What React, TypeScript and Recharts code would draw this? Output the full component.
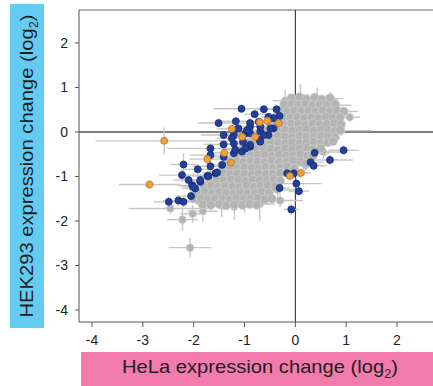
import React from "react";
import {
  ScatterChart,
  Scatter,
  XAxis,
  YAxis,
  ErrorBar,
  ReferenceLine,
} from "recharts";

// axis ticks (log2 fold change)
const xTicks = [-4, -3, -2, -1, 0, 1, 2];
const yTicks = [-4, -3, -2, -1, 0, 1, 2];
const xDomain: [number, number] = [-4.256, 2.885];
const yDomain: [number, number] = [-4.27, 2.74];

// bulk of proteins, grey cloud (no visible error bars)
const greyCloud: [number, number][] = [
  [-0.08, 0.76], [0.08, 0.78], [0.22, 0.74], [0.38, 0.77], [0.52, 0.73], [0.68, 0.76],
  [-0.22, 0.62], [-0.08, 0.63], [0.06, 0.61], [0.2, 0.63], [0.34, 0.6], [0.48, 0.62], [0.62, 0.61], [0.78, 0.63],
  [-0.3, 0.48], [-0.16, 0.47], [-0.02, 0.49], [0.12, 0.47], [0.26, 0.48], [0.4, 0.46], [0.54, 0.49], [0.68, 0.47], [0.82, 0.48], [0.95, 0.46],
  [-0.38, 0.33], [-0.24, 0.34], [-0.1, 0.32], [0.04, 0.34], [0.18, 0.32], [0.32, 0.33], [0.46, 0.31], [0.6, 0.34], [0.74, 0.32], [0.88, 0.33],
  [-0.5, 0.18], [-0.36, 0.19], [-0.22, 0.17], [-0.08, 0.19], [0.06, 0.18], [0.2, 0.16], [0.34, 0.19], [0.48, 0.17], [0.62, 0.18], [0.76, 0.2], [0.9, 0.17],
  [-0.62, 0.04], [-0.48, 0.05], [-0.34, 0.03], [-0.2, 0.05], [-0.06, 0.03], [0.08, 0.04], [0.22, 0.06], [0.36, 0.03], [0.5, 0.05], [0.64, 0.04], [0.78, 0.02], [0.88, 0.05],
  [-0.76, -0.1], [-0.62, -0.09], [-0.48, -0.11], [-0.34, -0.09], [-0.2, -0.1], [-0.06, -0.12], [0.08, -0.09], [0.22, -0.1], [0.36, -0.11], [0.5, -0.09], [0.64, -0.1], [0.78, -0.12],
  [-0.9, -0.24], [-0.76, -0.23], [-0.62, -0.25], [-0.48, -0.23], [-0.34, -0.24], [-0.2, -0.26], [-0.06, -0.23], [0.08, -0.25], [0.22, -0.24], [0.36, -0.22], [0.5, -0.25], [0.64, -0.23], [0.74, -0.21],
  [-1.04, -0.38], [-0.9, -0.37], [-0.76, -0.39], [-0.62, -0.37], [-0.48, -0.38], [-0.34, -0.4], [-0.2, -0.37], [-0.06, -0.39], [0.08, -0.38], [0.22, -0.36], [0.36, -0.39], [0.5, -0.37],
  [-1.16, -0.52], [-1.02, -0.51], [-0.88, -0.53], [-0.74, -0.51], [-0.6, -0.52], [-0.46, -0.54], [-0.32, -0.51], [-0.18, -0.53], [-0.04, -0.52], [0.1, -0.5], [0.24, -0.53], [0.34, -0.55],
  [-1.3, -0.66], [-1.16, -0.65], [-1.02, -0.67], [-0.88, -0.65], [-0.74, -0.66], [-0.6, -0.68], [-0.46, -0.65], [-0.32, -0.67], [-0.18, -0.66], [-0.04, -0.64], [0.1, -0.67], [0.2, -0.7],
  [-1.42, -0.8], [-1.28, -0.79], [-1.14, -0.81], [-1.0, -0.79], [-0.86, -0.8], [-0.72, -0.82], [-0.58, -0.79], [-0.44, -0.81], [-0.3, -0.8], [-0.16, -0.78], [-0.02, -0.82],
  [-1.56, -0.94], [-1.42, -0.93], [-1.28, -0.95], [-1.14, -0.93], [-1.0, -0.94], [-0.86, -0.96], [-0.72, -0.93], [-0.58, -0.95], [-0.44, -0.94], [-0.3, -0.92],
  [-1.68, -1.08], [-1.54, -1.07], [-1.4, -1.09], [-1.26, -1.07], [-1.12, -1.08], [-0.98, -1.1], [-0.84, -1.07], [-0.7, -1.09], [-0.56, -1.08], [-0.42, -1.06], [-0.3, -1.1],
  [-1.8, -1.22], [-1.66, -1.21], [-1.52, -1.23], [-1.38, -1.21], [-1.24, -1.22], [-1.1, -1.24], [-0.96, -1.21], [-0.82, -1.23], [-0.68, -1.22], [-0.54, -1.2], [-0.4, -1.23],
  [-1.92, -1.36], [-1.78, -1.35], [-1.64, -1.37], [-1.5, -1.35], [-1.36, -1.36], [-1.22, -1.38], [-1.08, -1.35], [-0.94, -1.37], [-0.8, -1.36], [-0.66, -1.34], [-0.52, -1.37],
  [-2.0, -1.5], [-1.86, -1.49], [-1.72, -1.51], [-1.58, -1.49], [-1.44, -1.5], [-1.3, -1.52], [-1.16, -1.49], [-1.02, -1.51], [-0.88, -1.5], [-0.74, -1.48], [-0.6, -1.51], [-0.46, -1.5],
  [-1.82, -1.63], [-1.66, -1.64], [-1.5, -1.62], [-1.36, -1.65], [-1.2, -1.63], [-1.04, -1.64], [-0.9, -1.62], [-0.76, -1.64],
];

// grey proteins whose error bars show: [x, y, xErr, yErr]
const greyEdge: [number, number, number, number][] = [
  [-2.07, -2.6, 0.42, 0.22],
  [-2.22, -1.97, 0.3, 0.25],
  [-2.02, -1.84, 0.25, 0.2],
  [-1.82, -1.78, 0.3, 0.22],
  [-2.46, -1.72, 0.82, 0.12],
  [-1.45, -1.66, 0.4, 0.25],
  [-1.2, -1.68, 0.3, 0.3],
  [-1.0, -1.62, 0.5, 0.2],
  [-0.7, -1.62, 0.3, 0.38],
  [-0.3, -1.54, 0.45, 0.15],
  [-0.35, -1.3, 0.35, 0.2],
  [-1.9, -1.55, 0.4, 0.15],
  [-1.5, -1.3, 0.6, 0.1],
  [-1.0, -0.9, 0.7, 0.1],
  [0.2, -0.75, 0.3, 0.12],
  [0.55, -0.45, 0.35, 0.15],
  [-0.5, -0.05, 0.9, 0.1],
  [0.25, 0.35, 0.7, 0.1],
  [0.9, 0.03, 0.6, 0.12],
  [1.07, 0.33, 0.2, 0.1],
  [0.85, 0.46, 0.38, 0.1],
  [0.8, 0.6, 0.3, 0.15],
  [0.69, 0.75, 0.25, 0.15],
  [0.43, 0.7, 0.2, 0.3],
  [0.1, 0.78, 0.1, 0.3],
  [-0.2, 0.7, 0.25, 0.25],
];

// significant in both lines (blue): [x, y, xErr, yErr]
const bluePoints: [number, number, number, number][] = [
  [-1.06, 0.52, 0.55, 0.1], [-1.51, 0.2, 0.4, 0.1], [-1.17, 0.24, 0.3, 0.1], [-0.8, 0.4, 0.2, 0.08],
  [-0.62, 0.51, 0.15, 0.08], [-0.37, 0.51, 0.15, 0.1], [-0.31, 0.36, 0.1, 0.08], [-0.43, 0.31, 0.1, 0.08],
  [-0.72, 0.23, 0.2, 0.08], [-0.89, 0.12, 0.25, 0.08], [-1.41, -0.07, 0.45, 0.1], [-1.21, -0.07, 0.3, 0.1],
  [-0.98, -0.03, 0.2, 0.08], [-0.69, 0.01, 0.15, 0.08], [-0.53, -0.07, 0.15, 0.08], [-0.43, 0.08, 0.1, 0.08],
  [-1.41, -0.28, 0.4, 0.1], [-1.21, -0.26, 0.3, 0.1], [-1.03, -0.22, 0.25, 0.08], [-0.89, -0.33, 0.2, 0.08],
  [-0.7, -0.18, 0.15, 0.08], [-1.67, -0.37, 0.85, 0.12], [-1.67, -0.52, 0.4, 0.12], [-1.41, -0.56, 0.3, 0.1],
  [-1.21, -0.48, 0.25, 0.1], [-1.05, -0.44, 0.2, 0.08], [-1.44, -0.74, 0.3, 0.1], [-1.67, -0.77, 0.35, 0.15],
  [-2.2, -0.73, 0.25, 0.25], [-1.92, -0.84, 0.3, 0.12], [-1.73, -0.99, 0.3, 0.12], [-1.57, -0.93, 0.25, 0.1],
  [-2.23, -0.97, 0.45, 0.15], [-2.1, -1.08, 0.3, 0.12], [-1.87, -1.12, 0.25, 0.12], [-2.03, -1.2, 0.3, 0.12],
  [-1.97, -1.27, 0.25, 0.12], [-2.05, -1.44, 0.3, 0.15], [-2.49, -1.57, 0.3, 0.12], [-2.3, -1.54, 0.3, 0.12],
  [-2.2, -1.57, 0.25, 0.12], [0.95, -0.41, 0.3, 0.1], [0.68, -0.63, 0.45, 0.12], [0.38, -0.47, 0.3, 0.12],
  [0.3, -0.68, 0.25, 0.12], [0.36, -0.76, 0.25, 0.1], [-0.16, -0.93, 0.2, 0.1], [-0.03, -0.93, 0.2, 0.1],
  [0.02, -1.16, 0.5, 0.12], [0.07, -1.33, 0.2, 0.1], [-0.31, -1.26, 0.2, 0.1], [-0.08, -1.74, 0.15, 0.12],
  [-0.53, 0.34, 0.15, 0.08], [-0.89, 0.2, 0.2, 0.08], [-0.69, 0.12, 0.15, 0.08], [-0.49, 0.08, 0.1, 0.08],
  [-1.25, -0.14, 0.3, 0.1], [-0.89, -0.03, 0.2, 0.08], [-0.62, -0.07, 0.15, 0.08], [-0.89, -0.29, 0.2, 0.08],
  [-0.69, -0.22, 0.15, 0.08], [-1.18, -0.4, 0.25, 0.1], [-0.98, -0.37, 0.2, 0.08], [-1.12, 0.08, 0.25, 0.08],
  [-0.95, 0.04, 0.2, 0.08], [-1.87, -1.08, 0.25, 0.12], [-1.71, -0.99, 0.25, 0.12], [-1.54, -0.91, 0.2, 0.1],
  [-2.01, -1.23, 0.25, 0.12],
];

// orange highlighted proteins: [x, y, xErr, yErr]
const orangePoints: [number, number, number, number][] = [
  [-2.58, -0.2, 1.35, 0.3], [-2.87, -1.18, 0.6, 0.1], [-1.25, 0.07, 0.3, 0.1], [-1.05, -0.11, 0.25, 0.1],
  [-0.79, -0.11, 0.2, 0.08], [-0.7, 0.22, 0.15, 0.08], [-0.55, 0.25, 0.15, 0.08], [-0.33, 0.2, 0.1, 0.08],
  [-1.4, -0.47, 0.3, 0.1], [-1.73, -0.61, 0.35, 0.12], [-1.27, -0.69, 0.25, 0.1], [-0.11, -0.99, 0.2, 0.1],
  [0.11, -0.92, 0.2, 0.1],
];

const toRows = (pts: number[][]) =>
  pts.map(([x, y, ex = 0, ey = 0]) => ({ x, y, ex, ey }));

const dot = (fill: string, stroke: string, r: number) => (p: any) =>
  p.cx == null ? <g /> : (
    <circle cx={p.cx} cy={p.cy} r={r} fill={fill} stroke={stroke} strokeWidth={0.8} />
  );

const barColor = "#c6c6c6";
const tickStyle = { fontSize: 14, fill: "#222", fontFamily: "Liberation Sans, Arial, sans-serif" };

export default function App() {
  return (
    <div
      style={{
        position: "absolute",
        left: 0,
        top: 0,
        width: 433,
        height: 386,
        overflow: "hidden",
        background: "#fff",
      }}
    >
      <ScatterChart width={442} height={386} margin={{ top: 10, right: 0, bottom: 0, left: 0 }}>
        <XAxis
          type="number"
          dataKey="x"
          domain={xDomain}
          ticks={xTicks}
          allowDataOverflow
          height={64}
          tickSize={5}
          tickMargin={8}
          tick={tickStyle}
          axisLine={{ stroke: "#555" }}
          tickLine={{ stroke: "#555" }}
        />
        <YAxis
          type="number"
          dataKey="y"
          domain={yDomain}
          ticks={yTicks}
          allowDataOverflow
          width={79}
          tickSize={4}
          tickMargin={7}
          tick={tickStyle}
          axisLine={{ stroke: "#555" }}
          tickLine={{ stroke: "#555" }}
        />
        <ReferenceLine y={yDomain[1]} stroke="#999" strokeWidth={1.5} />
        <ReferenceLine y={0} stroke="#555" strokeWidth={1.6} />
        <ReferenceLine x={0} stroke="#222" strokeWidth={1} />
        <Scatter data={toRows(greyEdge)} shape={dot("#b3b3b3", "#d0d0d0", 3.8)} isAnimationActive={false}>
          <ErrorBar dataKey="ex" direction="x" width={0} stroke={barColor} strokeWidth={1.4} />
          <ErrorBar dataKey="ey" direction="y" width={0} stroke={barColor} strokeWidth={1.4} />
        </Scatter>
        <Scatter data={toRows(greyCloud)} shape={dot("#b3b3b3", "#cdcdcd", 4.4)} isAnimationActive={false} />
        <Scatter data={toRows(bluePoints)} shape={dot("#22409a", "#162c70", 3.5)} isAnimationActive={false}>
          <ErrorBar dataKey="ex" direction="x" width={0} stroke={barColor} strokeWidth={1.4} />
          <ErrorBar dataKey="ey" direction="y" width={0} stroke={barColor} strokeWidth={1.4} />
        </Scatter>
        <Scatter data={toRows(orangePoints)} shape={dot("#f0a03a", "#b9732a", 3.5)} isAnimationActive={false}>
          <ErrorBar dataKey="ex" direction="x" width={0} stroke={barColor} strokeWidth={1.4} />
          <ErrorBar dataKey="ey" direction="y" width={0} stroke={barColor} strokeWidth={1.4} />
        </Scatter>
      </ScatterChart>
      <svg
        width={433}
        height={386}
        style={{ position: "absolute", left: 0, top: 0, pointerEvents: "none" }}
        fontFamily="Liberation Sans, Arial, sans-serif"
      >
        <rect x={10} y={4} width={34} height={324} fill="#64ccf2" />
        <text
          transform="translate(33,166) rotate(-90)"
          textAnchor="middle"
          fontSize={19}
          fill="#1e1e1e"
          textLength={303}
          lengthAdjust="spacingAndGlyphs"
        >
          HEK293 expression change (log<tspan fontSize={12} dy={5}>2</tspan>
          <tspan dy={-5}>)</tspan>
        </text>
        <rect x={81} y={352} width={360} height={34} fill="#f27bab" />
        <text
          x={260}
          y={373}
          textAnchor="middle"
          fontSize={19}
          fill="#1e1e1e"
          textLength={276}
          lengthAdjust="spacingAndGlyphs"
        >
          HeLa expression change (log<tspan fontSize={12} dy={5}>2</tspan>
          <tspan dy={-5}>)</tspan>
        </text>
      </svg>
    </div>
  );
}
